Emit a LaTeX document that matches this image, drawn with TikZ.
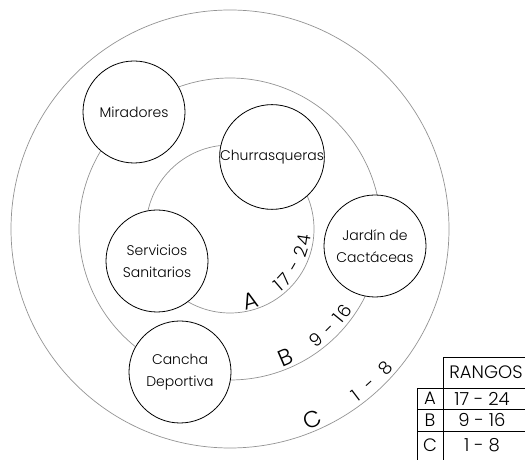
\documentclass[tikz,border=0pt]{standalone}
\usepackage{fontspec}
\setmainfont{Poppins}[UprightFont = * Light]
\usetikzlibrary{
  positioning,
  decorations.text}

\newcommand\letrasize{\fontsize{23}{23}\selectfont}
\newcommand\cifrasize{\fontsize{18}{18}\selectfont}

\tikzset{
  anillo/.style={draw=gray!85, line width=0.7pt},
  zona/.style={
    circle,
    draw=black,
    fill=white,
    line width=0.8pt,
    minimum size=102pt,
    inner sep=0pt,
    align=center,
    font=\fontsize{14}{22}\selectfont
  },
  rango/.style={
    decorate,
    decoration={text along path, text align=center, text={#1}}
  },
  celda/.style={font=\fontsize{18}{18}\selectfont, inner sep=0pt},
  tabla/.style={draw=black, line width=0.7pt}
}

\begin{document}
\begin{tikzpicture}[x=1pt, y=1pt]
  \useasboundingbox (0,0) rectangle (525,460);

  % Rings
  \coordinate (ctr) at (230,231);
  \draw[anillo] (ctr) circle[radius=219];
  \draw[anillo] (ctr) circle[radius=151];
  \draw[anillo] (ctr) circle[radius=84];

  % Zones
  \node[zona] (mir) at (134,348) {Miradores};
  \node[zona] (chu) at (272,303) {Churrasqueras};
  \node[zona] (jar) at (375,214) {Jardín de\\Cactáceas};
  \node[zona] (ser) at (157,199) {Servicios\\Sanitarios};
  \node[zona] (can) at (180,88) {Cancha\\Deportiva};

  % Ring labels
  \path[rango={|\letrasize|A}, shift={(ctr)}]
    (-94:83) arc[start angle=-94, end angle=-54, radius=83];
  \path[rango={|\cifrasize|1{\kern2pt}7{\kern8pt}-{\kern8pt}2{\kern2pt}4}, shift={(ctr)}]
    (-62:81) arc[start angle=-62, end angle=6, radius=81];

  \path[rango={|\letrasize|B}, shift={(ctr)}]
    (-80:148) arc[start angle=-80, end angle=-53, radius=148];
  \path[rango={|\cifrasize|9{\kern8pt}-{\kern8pt}1{\kern1.5pt}6}, shift={(ctr)}]
    (-61:147) arc[start angle=-61, end angle=-27, radius=147];

  \path[rango={|\letrasize|C}, shift={(ctr)}]
    (-77:216) arc[start angle=-77, end angle=-56, radius=216];
  \path[rango={|\cifrasize|1{\kern12pt}-{\kern12pt}8}, shift={(ctr)}]
    (-60:215) arc[start angle=-60, end angle=-34, radius=215];

  % Table
  \draw[tabla] (443,103) -- (530,103);
  \draw[tabla] (417,72) -- (530,72);
  \draw[tabla] (417,51) -- (530,51);
  \draw[tabla] (417,29) -- (530,29);
  \draw[tabla] (417,0) -- (417,72);
  \draw[tabla] (443,0) -- (443,103);

  \node[celda] (hdr) at (486,88) {RANGOS};
  \node[celda] (ra) at (430,61.5) {A};
  \node[celda] (va) at (482,61.5) {17 - 24};
  \node[celda] (rb) at (430,40) {B};
  \node[celda] (vb) at (482,40) {9 - 16};
  \node[celda] (rc) at (430,15) {C};
  \node[celda] (vc) at (482,15) {1 - 8};

\end{tikzpicture}
\end{document}
